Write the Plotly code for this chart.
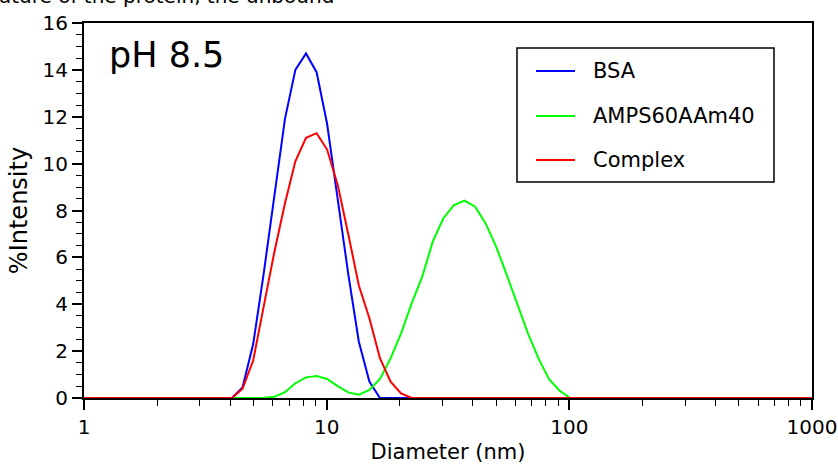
import plotly.graph_objects as go

# Diameter bins (nm)
diameter = [1, 4.07, 4.50, 4.98, 5.50, 6.08, 6.73, 7.43, 8.22, 9.09, 10.04, 11.10,
            12.27, 13.57, 15.00, 16.58, 18.34, 20.26, 22.40, 24.77, 27.36, 30.26,
            33.46, 37.00, 40.89, 45.20, 49.98, 55.23, 61.06, 67.52, 74.62, 82.49,
            91.20, 100.85, 1000]

bsa = [0, 0, 0.45, 2.3, 5.3, 8.6, 11.9, 14.0, 14.7, 13.9, 11.7, 8.5, 5.3, 2.4, 0.7, 0,
       0, 0, 0, 0, 0, 0, 0, 0, 0, 0, 0, 0, 0, 0, 0, 0, 0, 0, 0]

amps = [0, 0, 0, 0, 0, 0.05, 0.25, 0.63, 0.88, 0.94, 0.81, 0.51, 0.24, 0.14, 0.34, 0.81,
        1.69, 2.76, 4.04, 5.18, 6.67, 7.67, 8.23, 8.42, 8.16, 7.45, 6.45, 5.25, 4.04,
        2.76, 1.69, 0.80, 0.31, 0, 0]

complex_ = [0, 0, 0.4, 1.6, 3.9, 6.2, 8.3, 10.1, 11.1, 11.3, 10.6, 9.1, 7.0, 4.8, 3.4, 1.7,
            0.7, 0.2, 0, 0, 0, 0, 0, 0, 0, 0, 0, 0, 0, 0, 0, 0, 0, 0, 0]

series_names = ["BSA", "AMPS60AAm40", "Complex"]
series_values = [bsa, amps, complex_]
series_colors = ["#0000FF", "#00FF00", "#FF0000"]

x_ticks = [1, 10, 100, 1000]
x_tick_labels = ["1", "10", "100", "1000"]
y_ticks = [0, 2, 4, 6, 8, 10, 12, 14, 16]

FONT = "DejaVu Sans, Verdana, sans-serif"

fig = go.Figure()
for name, vals, col in zip(series_names, series_values, series_colors):
    fig.add_trace(go.Scatter(x=diameter, y=vals, mode="lines", name=name,
                             line=dict(color=col, width=2), showlegend=False))

# plot area pixel geometry (for layout placement only)
L, R, T, B = 84, 812, 23, 398
W, H = 838, 466

def px(xp):
    return (xp - L) / (R - L)

def py(yp):
    return (B - yp) / (B - T)

shapes = [dict(type="rect", xref="paper", yref="paper", x0=px(517), x1=px(774),
               y0=py(182), y1=py(48), line=dict(color="black", width=1.5),
               fillcolor="white", layer="above")]
annotations = []
leg_y = [71, 116, 160]
for name, col, yy in zip(series_names, series_colors, leg_y):
    shapes.append(dict(type="line", xref="paper", yref="paper", x0=px(536), x1=px(575),
                       y0=py(yy), y1=py(yy), line=dict(color=col, width=2), layer="above"))
    annotations.append(dict(xref="paper", yref="paper", x=px(591), y=py(yy), text=name,
                            showarrow=False, xanchor="left", yanchor="middle",
                            font=dict(family=FONT, size=21, color="black")))

annotations.append(dict(xref="paper", yref="paper", x=px(107), y=py(55), text="pH 8.5",
                        showarrow=False, xanchor="left", yanchor="middle",
                        font=dict(family=FONT, size=35, color="black")))
annotations.append(dict(xref="paper", yref="paper", x=px(-3), y=py(-4), text="ature of the protein, the unbound",
                        showarrow=False, xanchor="left", yanchor="middle",
                        font=dict(family=FONT, size=20, color="black")))

fig.update_layout(
    width=W, height=H,
    margin=dict(l=L, r=W - R, t=T, b=H - B, pad=0),
    paper_bgcolor="white", plot_bgcolor="white",
    font=dict(family=FONT, size=20, color="black"),
    shapes=shapes, annotations=annotations,
    showlegend=False,
)
fig.update_xaxes(
    type="log", range=[0, 3], tickvals=x_ticks, ticktext=x_tick_labels,
    showline=True, linecolor="black", linewidth=2, mirror=True,
    ticks="outside", ticklen=10, tickwidth=1.5, tickcolor="black",
    showgrid=False, zeroline=False, automargin=False,
    minor=dict(ticks="outside", ticklen=6, tickwidth=1, tickcolor="black",
               tickvals=[2, 3, 4, 5, 6, 7, 8, 9, 20, 30, 40, 50, 60, 70, 80, 90,
                         200, 300, 400, 500, 600, 700, 800, 900], showgrid=False),
    title=dict(text="Diameter (nm)", font=dict(family=FONT, size=21), standoff=6),
    tickfont=dict(family=FONT, size=20),
)
fig.update_yaxes(
    range=[0, 16], tickvals=y_ticks,
    showline=True, linecolor="black", linewidth=2, mirror=True,
    ticks="outside", ticklen=10, tickwidth=1.5, tickcolor="black",
    showgrid=False, zeroline=False, automargin=False,
    minor=dict(ticks="outside", ticklen=6, tickwidth=1, tickcolor="black", dtick=0.5,
               showgrid=False),
    title=dict(text="%Intensity", font=dict(family=FONT, size=24), standoff=8),
    tickfont=dict(family=FONT, size=20),
)

fig.write_html("out.html", config={"displayModeBar": False},
               post_script="document.body.style.margin='0';document.body.style.overflow='hidden';")
